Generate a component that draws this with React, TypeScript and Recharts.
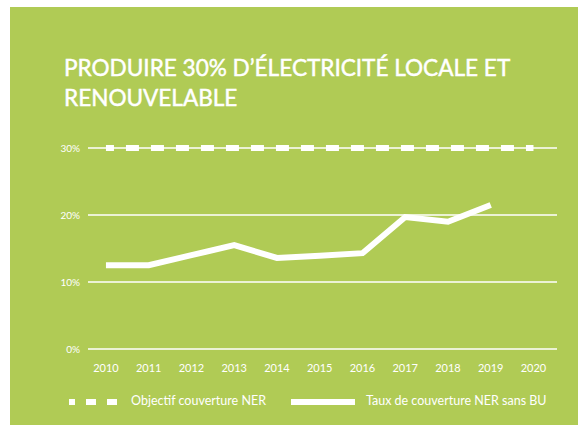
import { CartesianGrid, Line, LineChart, XAxis, YAxis } from "recharts";

const years = [2010, 2011, 2012, 2013, 2014, 2015, 2016, 2017, 2018, 2019, 2020];
const objectif = [30, 30, 30, 30, 30, 30, 30, 30, 30, 30, 30];
const tauxSansBU = [12.5, 12.5, 14.0, 15.5, 13.6, 13.9, 14.3, 19.7, 19.0, 21.5, null];
const yTicks = [0, 10, 20, 30];

const green = "#b0cb55";
const font = "Lato, 'Open Sans', sans-serif";

const data = years.map((year, i) => ({ year, objectif: objectif[i], taux: tauxSansBU[i] }));

export default function App() {
  return (
    <div style={{ position: "relative", width: 578, height: 425, background: "#fff", fontFamily: font }}>
      <style>{"body{margin:0}"}</style>
      <div style={{ position: "absolute", left: 10, top: 7, width: 568, height: 418, background: green }}>
        <div
          style={{
            position: "absolute",
            left: 54,
            top: 45,
            color: "#fff",
            fontSize: 24,
            lineHeight: "30px",
            transformOrigin: "0 0",
            transform: "scaleX(0.94)",
            whiteSpace: "nowrap",
            WebkitTextStroke: "0.5px #fff",
          }}
        >
          PRODUIRE 30% D’ÉLECTRICITÉ LOCALE ET
          <br />
          RENOUVELABLE
        </div>
        <LineChart width={568} height={418} data={data} margin={{ top: 141, right: 21, left: 0, bottom: 46 }}>
          <CartesianGrid horizontal vertical={false} stroke="#fff" strokeWidth={1.5} />
          <XAxis
            dataKey="year"
            type="number"
            domain={[2009.58, 2020.55]}
            ticks={years}
            axisLine={false}
            tickLine={false}
            tickMargin={9}
            height={30}
            tick={{ fill: "#fff", fontSize: 11, fontFamily: font }}
          />
          <YAxis
            domain={[0, 30]}
            ticks={yTicks}
            axisLine={false}
            tickLine={false}
            width={78}
            tickFormatter={(v) => `${v}%`}
            tick={{ fill: "#fff", fontSize: 10, fontFamily: font }}
          />
          <Line
            dataKey="objectif"
            stroke="#fff"
            strokeWidth={6}
            strokeDasharray="13 12"
            strokeDashoffset={5}
            dot={false}
            isAnimationActive={false}
          />
          <Line
            dataKey="taux"
            stroke="#fff"
            strokeWidth={6}
            strokeLinejoin="miter"
            dot={false}
            isAnimationActive={false}
          />
        </LineChart>
        <div style={{ position: "absolute", left: 0, top: 385, width: 568, height: 20, color: "#fff", fontSize: 12.5 }}>
          <svg width={50} height={8} style={{ position: "absolute", left: 59, top: 6 }}>
            <rect x={0} y={1} width={6} height={6} fill="#fff" />
            <rect x={17} y={1} width={10} height={6} fill="#fff" />
            <rect x={38} y={1} width={10} height={6} fill="#fff" />
          </svg>
          <span style={{ position: "absolute", left: 121, top: 1 }}>Objectif couverture NER</span>
          <svg width={64} height={8} style={{ position: "absolute", left: 281, top: 6 }}>
            <rect x={0} y={1} width={64} height={6} fill="#fff" />
          </svg>
          <span style={{ position: "absolute", left: 356, top: 1 }}>Taux de couverture NER sans BU</span>
        </div>
      </div>
    </div>
  );
}
